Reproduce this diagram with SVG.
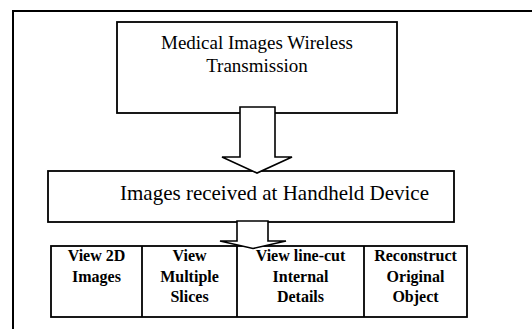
<svg xmlns="http://www.w3.org/2000/svg" width="532" height="329" viewBox="0 0 532 329">
<style>
.box{fill:#fff;stroke:#000;stroke-width:1.8}
.arrow{fill:#fff;stroke:#000;stroke-width:1.6;stroke-linejoin:miter}
.t{font-family:"Liberation Serif","Times New Roman",serif;fill:#000}
.b{font-family:"Liberation Serif","Times New Roman",serif;font-weight:bold;font-size:16px;fill:#000;text-anchor:middle}
</style>
<rect width="532" height="329" fill="#fff"/>
<polyline points="13,340 13,11 540,11" fill="none" stroke="#000" stroke-width="2"/>
<g id="node-transmission">
<rect class="box" x="117" y="22" width="280" height="91"/>
<text class="t" x="257" y="49" font-size="19" text-anchor="middle">Medical Images Wireless</text>
<text class="t" x="257" y="71.5" font-size="19" text-anchor="middle">Transmission</text>
</g>
<g id="node-received">
<rect class="box" x="48" y="171" width="406" height="51"/>
<text class="t" x="120" y="200" font-size="21">Images received at Handheld Device</text>
</g>
<g id="node-options">
<rect class="box" x="51" y="246" width="416" height="71"/>
<line x1="142" y1="246" x2="142" y2="317" stroke="#000" stroke-width="1.8"/>
<line x1="237" y1="246" x2="237" y2="317" stroke="#000" stroke-width="1.8"/>
<line x1="364" y1="246" x2="364" y2="317" stroke="#000" stroke-width="1.8"/>
<g id="node-view2d">
<text class="b" x="96.5" y="261">View 2D</text>
<text class="b" x="96.5" y="281.5">Images</text>
</g>
<g id="node-slices">
<text class="b" x="189.5" y="261">View</text>
<text class="b" x="189.5" y="281.5">Multiple</text>
<text class="b" x="189.5" y="302">Slices</text>
</g>
<g id="node-linecut">
<text class="b" x="300.5" y="261">View line-cut</text>
<text class="b" x="300.5" y="281.5">Internal</text>
<text class="b" x="300.5" y="302">Details</text>
</g>
<g id="node-reconstruct">
<text class="b" x="415.5" y="261">Reconstruct</text>
<text class="b" x="415.5" y="281.5">Original</text>
<text class="b" x="415.5" y="302">Object</text>
</g>
</g>
<g id="connectors">
<polygon class="arrow" points="240,107 275,107 275,157 292,157 257,173 222,157 240,157"/>
<polygon class="arrow" points="237,221 268,221 268,241 286,241 253,248.5 220,241 237,241"/>
</g>
</svg>
